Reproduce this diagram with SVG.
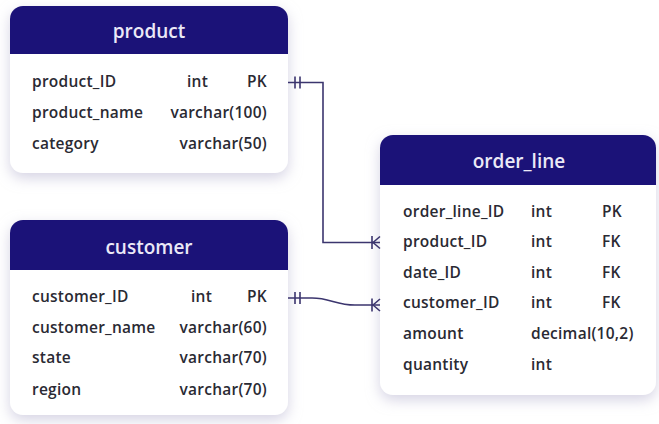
<svg xmlns="http://www.w3.org/2000/svg" width="659" height="424" viewBox="0 0 659 424">
  <defs>
    <filter id="shadow" x="-20%" y="-20%" width="140%" height="150%">
      <feDropShadow dx="0" dy="5" stdDeviation="7" flood-color="#b9b6d0" flood-opacity="0.6"/>
    </filter>
    <style>
      .card { fill: #ffffff; filter: url(#shadow); }
      .head { fill: #1b1278; }
      .title { font-family: "Open Sans", "Liberation Sans", sans-serif; font-size: 19px; font-weight: 600; fill: #ebe9f7; text-anchor: middle; }
      .cell { font-family: "Open Sans", "Liberation Sans", sans-serif; font-size: 15.5px; font-weight: 600; letter-spacing: 0.25px; fill: #2a2a33; }
      .end { text-anchor: end; }
      .link { fill: none; stroke: #3b356e; stroke-width: 1.6; }
    </style>
  </defs>
  <rect width="659" height="424" fill="#ffffff"/>

  <!-- product table -->
  <g id="product">
    <rect class="card" x="10" y="6" width="278" height="167" rx="13"/>
    <path class="head" d="M10 54 V19 a13 13 0 0 1 13 -13 H275 a13 13 0 0 1 13 13 V54 Z"/>
    <text class="title" x="149" y="38">product</text>
    <text class="cell" x="32" y="87">product_ID</text>
    <text class="cell" x="187" y="87">int</text>
    <text class="cell end" x="267" y="87">PK</text>
    <text class="cell" x="32" y="118">product_name</text>
    <text class="cell end" x="267" y="118">varchar(100)</text>
    <text class="cell" x="32" y="149">category</text>
    <text class="cell end" x="267" y="149">varchar(50)</text>
  </g>

  <!-- customer table -->
  <g id="customer">
    <rect class="card" x="10" y="220" width="278" height="195" rx="13"/>
    <path class="head" d="M10 270 V233 a13 13 0 0 1 13 -13 H275 a13 13 0 0 1 13 13 V270 Z"/>
    <text class="title" x="149" y="254">customer</text>
    <text class="cell" x="32" y="302">customer_ID</text>
    <text class="cell" x="191" y="302">int</text>
    <text class="cell end" x="267" y="302">PK</text>
    <text class="cell" x="32" y="333">customer_name</text>
    <text class="cell end" x="267" y="333">varchar(60)</text>
    <text class="cell" x="32" y="363">state</text>
    <text class="cell end" x="267" y="363">varchar(70)</text>
    <text class="cell" x="32" y="395">region</text>
    <text class="cell end" x="267" y="395">varchar(70)</text>
  </g>

  <!-- order_line table -->
  <g id="order_line">
    <rect class="card" x="380" y="135" width="276" height="260" rx="13"/>
    <path class="head" d="M380 185 V148 a13 13 0 0 1 13 -13 H643 a13 13 0 0 1 13 13 V185 Z"/>
    <text class="title" x="519" y="168">order_line</text>
    <text class="cell" x="403" y="217">order_line_ID</text>
    <text class="cell" x="531" y="217">int</text>
    <text class="cell" x="602" y="217">PK</text>
    <text class="cell" x="403" y="247">product_ID</text>
    <text class="cell" x="531" y="247">int</text>
    <text class="cell" x="602" y="247">FK</text>
    <text class="cell" x="403" y="278">date_ID</text>
    <text class="cell" x="531" y="278">int</text>
    <text class="cell" x="602" y="278">FK</text>
    <text class="cell" x="403" y="308">customer_ID</text>
    <text class="cell" x="531" y="308">int</text>
    <text class="cell" x="602" y="308">FK</text>
    <text class="cell" x="403" y="339">amount</text>
    <text class="cell" x="531" y="339">decimal(10,2)</text>
    <text class="cell" x="403" y="370">quantity</text>
    <text class="cell" x="531" y="370">int</text>
  </g>

  <!-- relationships -->
  <g id="connectors">
    <!-- product.product_ID  ||——<| order_line.product_ID -->
    <path class="link" d="M288 82.5 H323 V242.5 H380"/>
    <path class="link" d="M295 76.5 V88.5 M300 76.5 V88.5"/>
    <path class="link" d="M372 236 V249 M373 242.5 L380 236.5 M373 242.5 L380 248.5"/>
    <!-- customer.customer_ID  ||——<| order_line.customer_ID -->
    <path class="link" d="M288 298 H312 C330 298 336 305 355 305 H380"/>
    <path class="link" d="M295 292 V304 M300 292 V304"/>
    <path class="link" d="M372 298.5 V311.5 M373 305 L380 299 M373 305 L380 311"/>
  </g>
</svg>
